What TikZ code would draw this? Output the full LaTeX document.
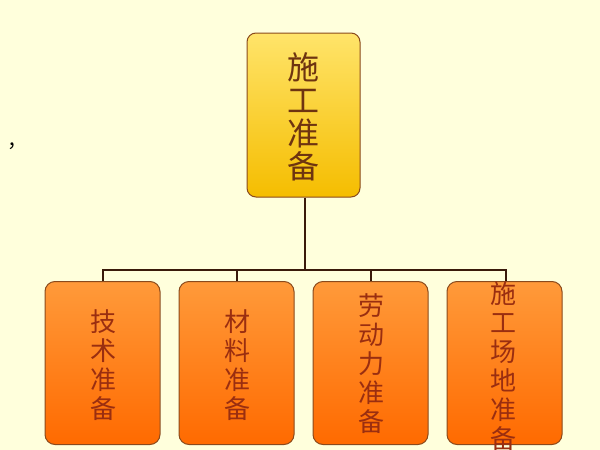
\documentclass[tikz,border=0pt]{standalone}
\usepackage{fontspec}
\newfontfamily\cjk{Noto Sans CJK SC}
\definecolor{bgc}{HTML}{FFFFDC}
\definecolor{ytop}{HTML}{FFE46A}
\definecolor{ybot}{HTML}{F5BD00}
\definecolor{otop}{HTML}{FF9A3A}
\definecolor{obot}{HTML}{FF6A00}
\definecolor{edgec}{HTML}{8A4A1C}
\definecolor{txttop}{HTML}{6E3410}
\definecolor{txtbot}{HTML}{9A2E10}
\definecolor{linec}{HTML}{3A1A0A}
\tikzset{
  topbox/.style={draw=edgec, line width=1pt, rounded corners=9pt, top color=ytop, bottom color=ybot},
  subbox/.style={draw=edgec, line width=1pt, rounded corners=10pt, top color=otop, bottom color=obot},
  toptext/.style={font=\cjk\fontsize{32}{33}\selectfont, text=txttop, align=center, inner sep=0pt},
  subtext/.style={font=\cjk\fontsize{26}{29}\selectfont, text=txtbot, align=center, inner sep=0pt},
  conn/.style={draw=linec, line width=2.2pt}
}
\begin{document}
\begin{tikzpicture}[x=1pt,y=-1pt]
\fill[bgc] (0,0) rectangle (600,450);
\useasboundingbox (0,0) rectangle (600,450);
% fragment at left edge
\node[font=\cjk\fontsize{20}{20}\selectfont, text=black, anchor=center] (frag) at (18,146) {，};
% top box
\node[topbox, minimum width=113pt, minimum height=164pt] (top) at (303.5,115) {};
\node[toptext] (toptxt) at (303.5,117) {施\\工\\准\\备};
% sub boxes
\node[subbox, minimum width=115pt, minimum height=163pt] (b1) at (102.5,363) {};
\node[subbox, minimum width=115pt, minimum height=163pt] (b2) at (236.5,363) {};
\node[subbox, minimum width=115pt, minimum height=163pt] (b3) at (370.5,363) {};
\node[subbox, minimum width=115pt, minimum height=163pt] (b4) at (504.5,363) {};
\node[subtext] (t1) at (103,365) {技\\术\\准\\备};
\node[subtext] (t2) at (237,365) {材\\料\\准\\备};
\node[subtext] (t3) at (371,364) {劳\\动\\力\\准\\备};
\node[subtext] (t4) at (503,366) {施\\工\\场\\地\\准\\备};
% connectors
\coordinate (j) at (305,270);
\draw[conn] (top.south -| j) -- (j);
\draw[conn] (b1.north -| 103,0) |- (j);
\draw[conn] (b4.north -| 506,0) |- (j);
\draw[conn] (b2.north -| 237,0) -- (237,270);
\draw[conn] (b3.north -| 371,0) -- (371,270);
\end{tikzpicture}
\end{document}
